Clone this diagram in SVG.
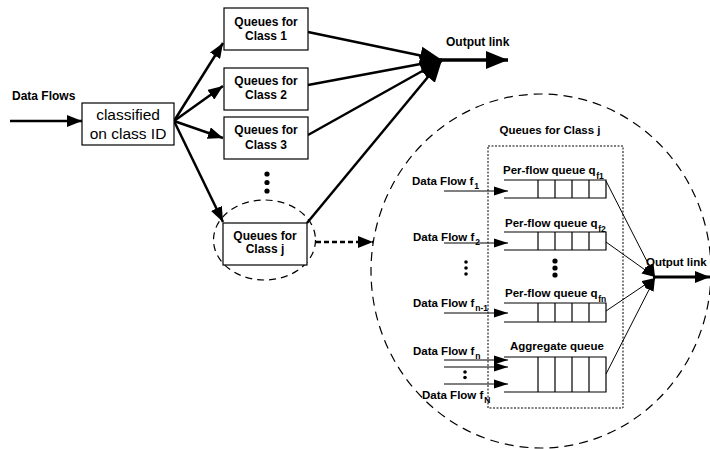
<svg xmlns="http://www.w3.org/2000/svg" width="710" height="449" viewBox="0 0 710 449">
<style>
text{font-family:"Liberation Sans",Arial,sans-serif;fill:#000}
.b{font-weight:bold;font-size:12px}
.s{font-weight:bold;font-size:11.5px}
.sub{font-size:8.5px;font-weight:bold}
.box{fill:#fff;stroke:#000;stroke-width:1.2}
.thick{stroke:#000;stroke-width:2.5;fill:none}
.thin{stroke:#000;stroke-width:1;fill:none}
.q{stroke:#000;stroke-width:1.2;fill:none}
</style>
<defs>
<marker id="ah" markerUnits="userSpaceOnUse" markerWidth="16" markerHeight="12" refX="15" refY="6" orient="auto"><path d="M0,0 L15,6 L0,12 Z" fill="#000"/></marker>
<marker id="ahs" markerUnits="userSpaceOnUse" markerWidth="14" markerHeight="10" refX="13" refY="5" orient="auto"><path d="M0,0 L13,5 L0,10 Z" fill="#000"/></marker>
<marker id="ahb" markerUnits="userSpaceOnUse" markerWidth="24" markerHeight="20" refX="22" refY="10" orient="auto"><path d="M0,1 L22,10 L0,19 Z" fill="#000"/></marker>
<marker id="aht" markerUnits="userSpaceOnUse" markerWidth="15" markerHeight="10" refX="14" refY="5" orient="auto"><path d="M0,0.5 L14,5 L0,9.5 Z" fill="#000"/></marker>
</defs>

<g id="connectors">
<line class="thick" x1="10" y1="121" x2="82" y2="121" marker-end="url(#ah)"/>
<line class="thick" x1="174" y1="121" x2="223" y2="43" marker-end="url(#ah)"/>
<line class="thick" x1="174" y1="121" x2="223" y2="86" marker-end="url(#ah)"/>
<line class="thick" x1="174" y1="121" x2="223" y2="138" marker-end="url(#ah)"/>
<line class="thick" x1="174" y1="121" x2="223" y2="222" marker-end="url(#ah)"/>
<line class="thick" x1="308" y1="32" x2="442" y2="60" marker-end="url(#ahb)"/>
<line class="thick" x1="308" y1="85" x2="442" y2="60" marker-end="url(#ahb)"/>
<line class="thick" x1="308" y1="135" x2="442" y2="60" marker-end="url(#ahb)"/>
<line class="thick" x1="307" y1="223" x2="442" y2="60" marker-end="url(#ahb)"/>
<line stroke="#000" stroke-width="3.5" x1="440" y1="60" x2="508" y2="60" marker-end="url(#ahb)"/>
<line stroke="#000" stroke-width="2.5" stroke-dasharray="5,3" x1="316" y1="242" x2="373" y2="242" marker-end="url(#ah)"/>
<line class="thin" x1="444" y1="191" x2="508" y2="191" marker-end="url(#aht)"/>
<line class="thin" x1="444" y1="243" x2="508" y2="243" marker-end="url(#aht)"/>
<line class="thin" x1="444" y1="313" x2="508" y2="313" marker-end="url(#aht)"/>
<line class="thin" x1="444" y1="360" x2="508" y2="360" marker-end="url(#aht)"/>
<line class="thin" x1="444" y1="367" x2="508" y2="367" marker-end="url(#aht)"/>
<line class="thin" x1="444" y1="384" x2="508" y2="384" marker-end="url(#aht)"/>
<line class="thin" x1="606" y1="181" x2="655" y2="277" marker-end="url(#ahs)"/>
<line class="thin" x1="606" y1="242" x2="655" y2="277" marker-end="url(#ahs)"/>
<line class="thin" x1="606" y1="311" x2="655" y2="278" marker-end="url(#ahs)"/>
<line class="thin" x1="606" y1="374" x2="655" y2="278" marker-end="url(#ahs)"/>
<line stroke="#000" stroke-width="3" x1="653" y1="277" x2="710" y2="277" marker-end="url(#ah)"/>
</g>

<g id="big-circle"><ellipse cx="541" cy="271" rx="170" ry="177" fill="none" stroke="#000" stroke-width="1.2" stroke-dasharray="9,6"/></g>
<g id="small-circle"><ellipse cx="264.5" cy="240" rx="51" ry="40" fill="none" stroke="#000" stroke-width="1.2" stroke-dasharray="7,5"/></g>
<g id="class-j-area"><rect x="488" y="146" width="135" height="262" fill="none" stroke="#000" stroke-width="1" stroke-dasharray="2,1.5"/>
<text class="s" x="550" y="134" text-anchor="middle">Queues for Class j</text></g>

<text class="b" x="12" y="100">Data Flows</text>

<g id="classifier">
<rect class="box" x="82" y="103" width="92" height="42"/>
<text x="128" y="120" text-anchor="middle" font-size="15.5">classified</text>
<text x="128" y="139" text-anchor="middle" font-size="15.5">on class ID</text>
</g>

<g id="class1"><rect class="box" x="224" y="8" width="84" height="42"/>
<text class="b" x="266" y="26" text-anchor="middle">Queues for</text><text class="b" x="266" y="40" text-anchor="middle">Class 1</text></g>
<g id="class2"><rect class="box" x="224" y="68" width="84" height="42"/>
<text class="b" x="266" y="85" text-anchor="middle">Queues for</text><text class="b" x="266" y="99" text-anchor="middle">Class 2</text></g>
<g id="class3"><rect class="box" x="224" y="117" width="84" height="42"/>
<text class="b" x="266" y="134" text-anchor="middle">Queues for</text><text class="b" x="266" y="149" text-anchor="middle">Class 3</text></g>
<g id="dots1" fill="#000"><circle cx="267" cy="174" r="2.6"/><circle cx="267" cy="182.5" r="2.6"/><circle cx="267" cy="191" r="2.6"/></g>
<g id="classj"><rect class="box" x="223" y="223" width="84" height="42"/>
<text class="b" x="265" y="240" text-anchor="middle">Queues for</text><text class="b" x="265" y="253" text-anchor="middle">Class j</text></g>

<text class="b" x="446" y="46">Output link</text>

<g id="queue1">
<path class="q" d="M504,180 H606 V198 H504 M538,180 V198 M555,180 V198 M572,180 V198 M589,180 V198"/>
<text class="s" x="503" y="174">Per-flow queue q<tspan class="sub" dx="0.5" dy="5">f1</tspan></text>
</g>
<g id="queue2">
<path class="q" d="M504,232 H606 V250 H504 M538,232 V250 M555,232 V250 M572,232 V250 M589,232 V250"/>
<text class="s" x="505" y="227">Per-flow queue q<tspan class="sub" dx="0.5" dy="5">f2</tspan></text>
</g>
<g id="queuen">
<path class="q" d="M504,303 H606 V322 H504 M538,303 V322 M555,303 V322 M572,303 V322 M589,303 V322"/>
<text class="s" x="505" y="297">Per-flow queue q<tspan class="sub" dx="0.5" dy="5">fn</tspan></text>
</g>
<g id="aggregate">
<path class="q" d="M504,357 H606 V392 H504 M538,357 V392 M555,357 V392 M572,357 V392 M589,357 V392"/>
<text class="s" x="510" y="350">Aggregate queue</text>
</g>
<g id="dots2" fill="#000"><circle cx="555" cy="261" r="2.6"/><circle cx="555" cy="268" r="2.6"/><circle cx="555" cy="275" r="2.6"/></g>
<g id="dots3" fill="#000"><circle cx="466" cy="262" r="1.8"/><circle cx="466" cy="268" r="1.8"/><circle cx="466" cy="274" r="1.8"/></g>
<g id="dots4" fill="#000"><circle cx="465" cy="372" r="1.8"/><circle cx="465" cy="377.5" r="1.8"/></g>

<g id="flow-labels">
<text class="s" x="412" y="185">Data Flow f<tspan class="sub" dx="1" dy="4">1</tspan></text>
<text class="s" x="413" y="241">Data Flow f<tspan class="sub" dx="1" dy="4">2</tspan></text>
<text class="s" x="413" y="307">Data Flow f<tspan class="sub" dx="1" dy="4">n-1</tspan></text>
<text class="s" x="413" y="355">Data Flow f<tspan class="sub" dx="1" dy="4">n</tspan></text>
<text class="s" x="422" y="399">Data Flow f<tspan class="sub" dx="1" dy="4">N</tspan></text>
</g>
<text class="s" x="646" y="266">Output link</text>
</svg>
